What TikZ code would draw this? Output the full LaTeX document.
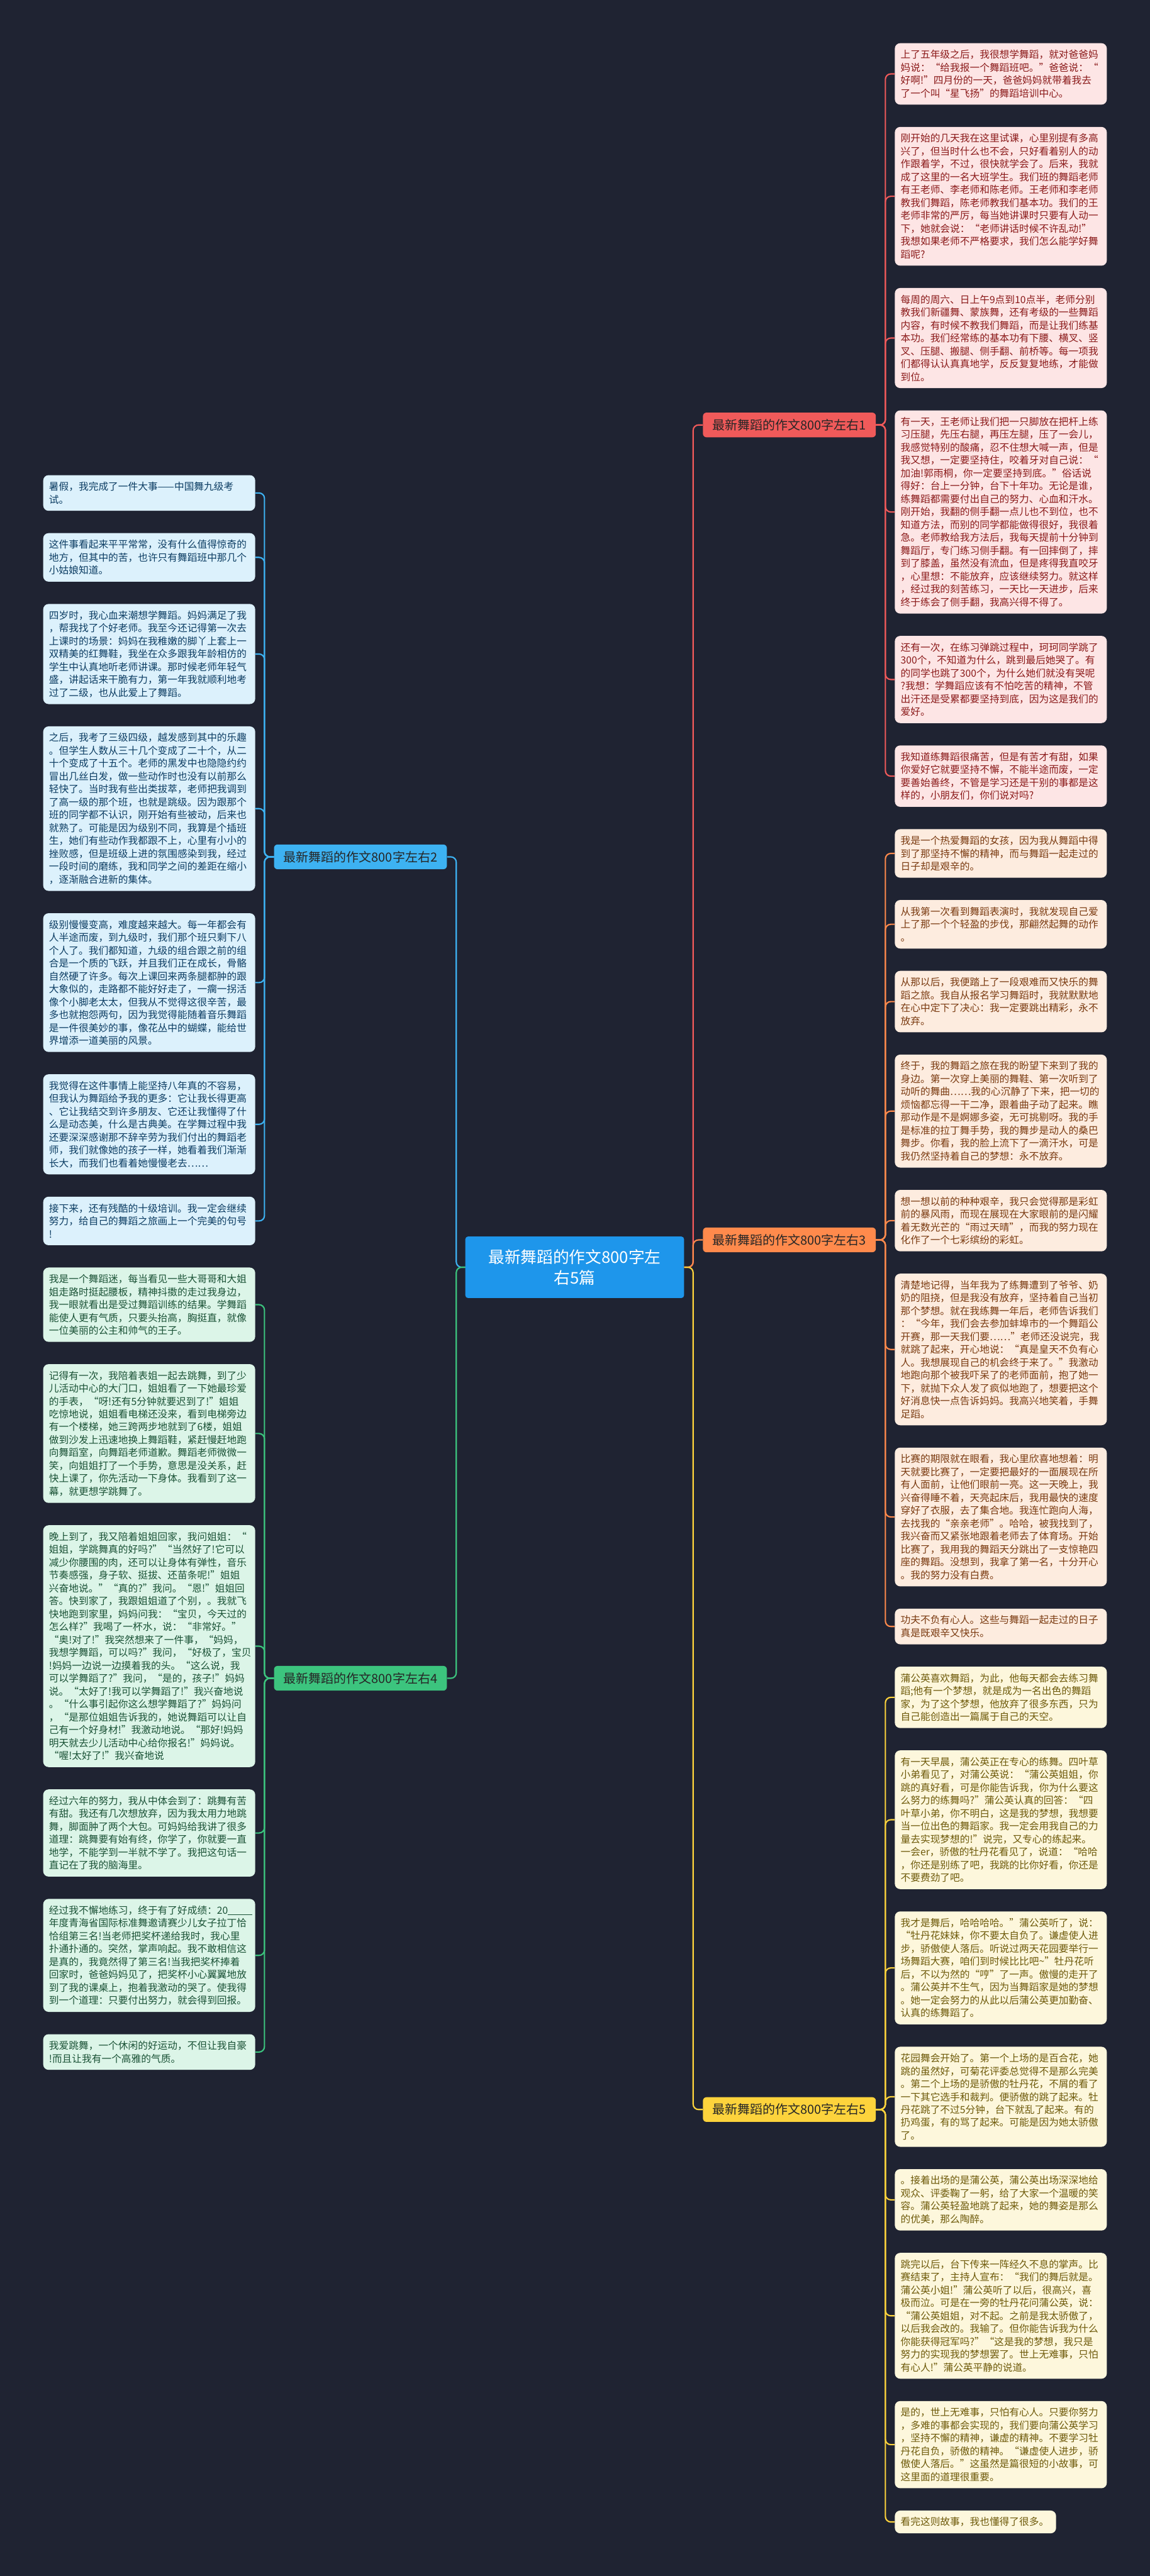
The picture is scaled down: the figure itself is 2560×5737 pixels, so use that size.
\documentclass[tikz,border=0pt]{standalone}
\usepackage{fontspec}
\newfontfamily\cjk{Noto Sans CJK SC}
\definecolor{bg}{HTML}{1F2332}
\definecolor{cfill}{HTML}{1E96EB}
\definecolor{cred}{HTML}{F05A5A}
\definecolor{cblue}{HTML}{3DB2F2}
\definecolor{corange}{HTML}{FF8A4C}
\definecolor{cgreen}{HTML}{3CC47E}
\definecolor{cyellow}{HTML}{FDD33C}
\definecolor{fred}{HTML}{FDE5E5}
\definecolor{tred}{HTML}{8B1A1A}
\definecolor{forange}{HTML}{FDECDF}
\definecolor{torange}{HTML}{7A3A10}
\definecolor{fyellow}{HTML}{FDF7DC}
\definecolor{tyellow}{HTML}{6E5A0A}
\definecolor{fblue}{HTML}{DCF1FC}
\definecolor{tblue}{HTML}{0C3D63}
\definecolor{fgreen}{HTML}{DCF5E8}
\definecolor{tgreen}{HTML}{1A5236}
\newcommand\leaffont{\cjk\fontsize{22}{28.7}\selectfont}
\tikzset{
  leaf/.style={anchor=north west, rounded corners=12pt, text width=446pt,
    inner xsep=13pt, inner ysep=2pt, align=left, font=\leaffont,
    minimum height={28.7*#1+22}},
  lred/.style={leaf=#1, fill=fred, text=tred},
  lorange/.style={leaf=#1, fill=forange, text=torange},
  lyellow/.style={leaf=#1, fill=fyellow, text=tyellow},
  lblue/.style={leaf=#1, fill=fblue, text=tblue},
  lgreen/.style={leaf=#1, fill=fgreen, text=tgreen},
  branch/.style={rounded corners=8pt, minimum width=385pt, minimum height=55pt,
    inner sep=0pt, font=\cjk\fontsize{28}{32}\selectfont},
  conn/.style={line width=3pt, rounded corners=12pt},
}
\begin{document}
\begin{tikzpicture}[x=1pt,y=-1pt]
\fill[bg] (0,0) rectangle (2560,5737);
\useasboundingbox (0,0) rectangle (2560,5737);

% center
\node[fill=cfill, text=white, rounded corners=6pt, minimum width=487pt, minimum height=137pt,
  align=center, inner sep=0pt, font=\cjk\fontsize{36}{46}\selectfont] (C) at (1279.5,2822.3)
  {最新舞蹈的作文800字左\\右5篇};

% branches
\node[branch, fill=cred, text=black!85] (B1) at (1757.5,946.4) {最新舞蹈的作文800字左右1};
\node[branch, fill=corange, text=black!85] (B3) at (1757.5,2761.3) {最新舞蹈的作文800字左右3};
\node[branch, fill=cyellow, text=black!85] (B5) at (1757.5,4698.1) {最新舞蹈的作文800字左右5};
\node[branch, fill=cblue, text=black!85] (B2) at (802.5,1908.3) {最新舞蹈的作文800字左右2};
\node[branch, fill=cgreen, text=black!85] (B4) at (802.5,3737.6) {最新舞蹈的作文800字左右4};

% ---------- essay 1 ----------
\node[lred=4] (r1a) at (1992,96) {上了五年级之后，我很想学舞蹈，就对爸爸妈\\妈说：“给我报一个舞蹈班吧。”爸爸说：“\\好啊!”四月份的一天，爸爸妈妈就带着我去\\了一个叫“星飞扬”的舞蹈培训中心。};
\node[lred=10] (r1b) at (1992,282.5) {刚开始的几天我在这里试课，心里别提有多高\\兴了，但当时什么也不会，只好看着别人的动\\作跟着学，不过，很快就学会了。后来，我就\\成了这里的一名大班学生。我们班的舞蹈老师\\有王老师、李老师和陈老师。王老师和李老师\\教我们舞蹈，陈老师教我们基本功。我们的王\\老师非常的严厉，每当她讲课时只要有人动一\\下，她就会说：“老师讲话时候不许乱动!”\\我想如果老师不严格要求，我们怎么能学好舞\\蹈呢?};
\node[lred=7] (r1c) at (1992,641.2) {每周的周六、日上午9点到10点半，老师分别\\教我们新疆舞、蒙族舞，还有考级的一些舞蹈\\内容，有时候不教我们舞蹈，而是让我们练基\\本功。我们经常练的基本功有下腰、横叉、竖\\叉、压腿、搬腿、侧手翻、前桥等。每一项我\\们都得认认真真地学，反反复复地练，才能做\\到位。};
\node[lred=15] (r1d) at (1992,913.8) {有一天，王老师让我们把一只脚放在把杆上练\\习压腿，先压右腿，再压左腿，压了一会儿，\\我感觉特别的酸痛，忍不住想大喊一声，但是\\我又想，一定要坚持住，咬着牙对自己说：“\\加油!郭雨桐，你一定要坚持到底。”俗话说\\得好：台上一分钟，台下十年功。无论是谁，\\练舞蹈都需要付出自己的努力、心血和汗水。\\刚开始，我翻的侧手翻一点儿也不到位，也不\\知道方法，而别的同学都能做得很好，我很着\\急。老师教给我方法后，我每天提前十分钟到\\舞蹈厅，专门练习侧手翻。有一回摔倒了，摔\\到了膝盖，虽然没有流血，但是疼得我直咬牙\\，心里想：不能放弃，应该继续努力。就这样\\，经过我的刻苦练习，一天比一天进步，后来\\终于练会了侧手翻，我高兴得不得了。};
\node[lred=6] (r1e) at (1992,1416.0) {还有一次，在练习弹跳过程中，珂珂同学跳了\\300个，不知道为什么，跳到最后她哭了。有\\的同学也跳了300个，为什么她们就没有哭呢\\?我想：学舞蹈应该有不怕吃苦的精神，不管\\出汗还是受累都要坚持到底，因为这是我们的\\爱好。};
\node[lred=4] (r1f) at (1992,1659.9) {我知道练舞蹈很痛苦，但是有苦才有甜，如果\\你爱好它就要坚持不懈，不能半途而废，一定\\要善始善终，不管是学习还是干别的事都是这\\样的，小朋友们，你们说对吗?};

% ---------- essay 3 ----------
\node[lorange=3] (r3a) at (1992,1846.4) {我是一个热爱舞蹈的女孩，因为我从舞蹈中得\\到了那坚持不懈的精神，而与舞蹈一起走过的\\日子却是艰辛的。};
\node[lorange=3] (r3b) at (1992,2004.2) {从我第一次看到舞蹈表演时，我就发现自己爱\\上了那一个个轻盈的步伐，那翩然起舞的动作\\。};
\node[lorange=4] (r3c) at (1992,2162.0) {从那以后，我便踏上了一段艰难而又快乐的舞\\蹈之旅。我自从报名学习舞蹈时，我就默默地\\在心中定下了决心：我一定要跳出精彩，永不\\放弃。};
\node[lorange=8] (r3d) at (1992,2348.5) {终于，我的舞蹈之旅在我的盼望下来到了我的\\身边。第一次穿上美丽的舞鞋、第一次听到了\\动听的舞曲……我的心沉静了下来，把一切的\\烦恼都忘得一干二净，跟着曲子动了起来。瞧\\那动作是不是婀娜多姿，无可挑剔呀。我的手\\是标准的拉丁舞手势，我的舞步是动人的桑巴\\舞步。你看，我的脸上流下了一滴汗水，可是\\我仍然坚持着自己的梦想：永不放弃。};
\node[lorange=4] (r3e) at (1992,2649.8) {想一想以前的种种艰辛，我只会觉得那是彩虹\\前的暴风雨，而现在展现在大家眼前的是闪耀\\着无数光芒的“雨过天晴”，而我的努力现在\\化作了一个七彩缤纷的彩虹。};
\node[lorange=11] (r3f) at (1992,2836.3) {清楚地记得，当年我为了练舞遭到了爷爷、奶\\奶的阻挠，但是我没有放弃，坚持着自己当初\\那个梦想。就在我练舞一年后，老师告诉我们\\：“今年，我们会去参加蚌埠市的一个舞蹈公\\开赛，那一天我们要……”老师还没说完，我\\就跳了起来，开心地说：“真是皇天不负有心\\人。我想展现自己的机会终于来了。”我激动\\地跑向那个被我吓呆了的老师面前，抱了她一\\下，就抛下众人发了疯似地跑了，想要把这个\\好消息快一点告诉妈妈。我高兴地笑着，手舞\\足蹈。};
\node[lorange=10] (r3g) at (1992,3223.7) {比赛的期限就在眼看，我心里欣喜地想着：明\\天就要比赛了，一定要把最好的一面展现在所\\有人面前，让他们眼前一亮。这一天晚上，我\\兴奋得睡不着，天亮起床后，我用最快的速度\\穿好了衣服，去了集合地。我连忙跑向人海，\\去找我的“亲亲老师”。哈哈，被我找到了，\\我兴奋而又紧张地跟着老师去了体育场。开始\\比赛了，我用我的舞蹈天分跳出了一支惊艳四\\座的舞蹈。没想到，我拿了第一名，十分开心\\。我的努力没有白费。};
\node[lorange=2] (r3h) at (1992,3582.4) {功夫不负有心人。这些与舞蹈一起走过的日子\\真是既艰辛又快乐。};

% ---------- essay 5 ----------
\node[lyellow=4] (r5a) at (1992,3711.5) {蒲公英喜欢舞蹈，为此，他每天都会去练习舞\\蹈;他有一个梦想，就是成为一名出色的舞蹈\\家，为了这个梦想，他放弃了很多东西，只为\\自己能创造出一篇属于自己的天空。};
\node[lyellow=10] (r5b) at (1992,3898.0) {有一天早晨，蒲公英正在专心的练舞。四叶草\\小弟看见了，对蒲公英说：“蒲公英姐姐，你\\跳的真好看，可是你能告诉我，你为什么要这\\么努力的练舞吗?”蒲公英认真的回答：“四\\叶草小弟，你不明白，这是我的梦想，我想要\\当一位出色的舞蹈家。我一定会用我自己的力\\量去实现梦想的!”说完，又专心的练起来。\\一会er，骄傲的牡丹花看见了，说道：“哈哈\\，你还是别练了吧，我跳的比你好看，你还是\\不要费劲了吧。};
\node[lyellow=8] (r5c) at (1992,4256.7) {我才是舞后，哈哈哈哈。”蒲公英听了，说：\\“牡丹花妹妹，你不要太自负了。谦虚使人进\\步，骄傲使人落后。听说过两天花园要举行一\\场舞蹈大赛，咱们到时候比比吧\textasciitilde”牡丹花听\\后，不以为然的“哼”了一声。傲慢的走开了\\。蒲公英并不生气，因为当舞蹈家是她的梦想\\。她一定会努力的从此以后蒲公英更加勤奋、\\认真的练舞蹈了。};
\node[lyellow=7] (r5d) at (1992,4558.0) {花园舞会开始了。第一个上场的是百合花，她\\跳的虽然好，可菊花评委总觉得不是那么完美\\。第二个上场的是骄傲的牡丹花，不屑的看了\\一下其它选手和裁判。便骄傲的跳了起来。牡\\丹花跳了不过5分钟，台下就乱了起来。有的\\扔鸡蛋，有的骂了起来。可能是因为她太骄傲\\了。};
\node[lyellow=4] (r5e) at (1992,4830.6) {。接着出场的是蒲公英，蒲公英出场深深地给\\观众、评委鞠了一躬，给了大家一个温暖的笑\\容。蒲公英轻盈地跳了起来，她的舞姿是那么\\的优美，那么陶醉。};
\node[lyellow=9] (r5f) at (1992,5017.1) {跳完以后，台下传来一阵经久不息的掌声。比\\赛结束了，主持人宣布：“我们的舞后就是。\\蒲公英小姐!”蒲公英听了以后，很高兴，喜\\极而泣。可是在一旁的牡丹花问蒲公英，说：\\“蒲公英姐姐，对不起。之前是我太骄傲了，\\以后我会改的。我输了。但你能告诉我为什么\\你能获得冠军吗?”“这是我的梦想，我只是\\努力的实现我的梦想罢了。世上无难事，只怕\\有心人!”蒲公英平静的说道。};
\node[lyellow=6] (r5g) at (1992,5347.1) {是的，世上无难事，只怕有心人。只要你努力\\，多难的事都会实现的，我们要向蒲公英学习\\，坚持不懈的精神，谦虚的精神。不要学习牡\\丹花自负，骄傲的精神。“谦虚使人进步，骄\\傲使人落后。”这虽然是篇很短的小故事，可\\这里面的道理很重要。};
\node[lyellow=1, text width=333pt] (r5h) at (1992,5591.0) {看完这则故事，我也懂得了很多。};

% ---------- essay 2 ----------
\node[lblue=2] (l2a) at (96,1058) {暑假，我完成了一件大事——中国舞九级考\\试。};
\node[lblue=3] (l2b) at (96,1187.1) {这件事看起来平平常常，没有什么值得惊奇的\\地方，但其中的苦，也许只有舞蹈班中那几个\\小姑娘知道。};
\node[lblue=7] (l2c) at (96,1344.9) {四岁时，我心血来潮想学舞蹈。妈妈满足了我\\，帮我找了个好老师。我至今还记得第一次去\\上课时的场景：妈妈在我稚嫩的脚丫上套上一\\双精美的红舞鞋，我坐在众多跟我年龄相仿的\\学生中认真地听老师讲课。那时候老师年轻气\\盛，讲起话来干脆有力，第一年我就顺利地考\\过了二级，也从此爱上了舞蹈。};
\node[lblue=12] (l2d) at (96,1617.5) {之后，我考了三级四级，越发感到其中的乐趣\\。但学生人数从三十几个变成了二十个，从二\\十个变成了十五个。老师的黑发中也隐隐约约\\冒出几丝白发，做一些动作时也没有以前那么\\轻快了。当时我有些出类拔萃，老师把我调到\\了高一级的那个班，也就是跳级。因为跟那个\\班的同学都不认识，刚开始有些被动，后来也\\就熟了。可能是因为级别不同，我算是个插班\\生，她们有些动作我都跟不上，心里有小小的\\挫败感，但是班级上进的氛围感染到我，经过\\一段时间的磨练，我和同学之间的差距在缩小\\，逐渐融合进新的集体。};
\node[lblue=10] (l2e) at (96,2033.6) {级别慢慢变高，难度越来越大。每一年都会有\\人半途而废，到九级时，我们那个班只剩下八\\个人了。我们都知道，九级的组合跟之前的组\\合是一个质的飞跃，并且我们正在成长，骨骼\\自然硬了许多。每次上课回来两条腿都肿的跟\\大象似的，走路都不能好好走了，一瘸一拐活\\像个小脚老太太，但我从不觉得这很辛苦，最\\多也就抱怨两句，因为我觉得能随着音乐舞蹈\\是一件很美妙的事，像花丛中的蝴蝶，能给世\\界增添一道美丽的风景。};
\node[lblue=7] (l2f) at (96,2392.3) {我觉得在这件事情上能坚持八年真的不容易，\\但我认为舞蹈给予我的更多：它让我长得更高\\、它让我结交到许多朋友、它还让我懂得了什\\么是动态美，什么是古典美。在学舞过程中我\\还要深深感谢那不辞辛劳为我们付出的舞蹈老\\师，我们就像她的孩子一样，她看着我们渐渐\\长大，而我们也看着她慢慢老去……};
\node[lblue=3] (l2g) at (96,2664.9) {接下来，还有残酷的十级培训。我一定会继续\\努力，给自己的舞蹈之旅画上一个完美的句号\\!};

% ---------- essay 4 ----------
\node[lgreen=5] (l4a) at (96,2822.7) {我是一个舞蹈迷，每当看见一些大哥哥和大姐\\姐走路时挺起腰板，精神抖擞的走过我身边，\\我一眼就看出是受过舞蹈训练的结果。学舞蹈\\能使人更有气质，只要头抬高，胸挺直，就像\\一位美丽的公主和帅气的王子。};
\node[lgreen=10] (l4b) at (96,3037.9) {记得有一次，我陪着表姐一起去跳舞，到了少\\儿活动中心的大门口，姐姐看了一下她最珍爱\\的手表，“呀!还有5分钟就要迟到了!”姐姐\\吃惊地说，姐姐看电梯还没来，看到电梯旁边\\有一个楼梯，她三跨两步地就到了6楼，姐姐\\做到沙发上迅速地换上舞蹈鞋，紧赶慢赶地跑\\向舞蹈室，向舞蹈老师道歉。舞蹈老师微微一\\笑，向姐姐打了一个手势，意思是没关系，赶\\快上课了，你先活动一下身体。我看到了这一\\幕，就更想学跳舞了。};
\node[lgreen=18] (l4c) at (96,3396.6) {晚上到了，我又陪着姐姐回家，我问姐姐：“\\姐姐，学跳舞真的好吗?”“当然好了!它可以\\减少你腰围的肉，还可以让身体有弹性，音乐\\节奏感强，身子软、挺拔、还苗条呢!”姐姐\\兴奋地说。”“真的?”我问。“恩!”姐姐回\\答。快到家了，我跟姐姐道了个别，。我就飞\\快地跑到家里，妈妈问我：“宝贝，今天过的\\怎么样?”我喝了一杯水，说：“非常好。”\\“奥!对了!”我突然想来了一件事，“妈妈，\\我想学舞蹈，可以吗?”我问，“好极了，宝贝\\!妈妈一边说一边摸着我的头。“这么说，我\\可以学舞蹈了?”我问，“是的，孩子!”妈妈\\说。“太好了!我可以学舞蹈了!”我兴奋地说\\。“什么事引起你这么想学舞蹈了?”妈妈问\\，“是那位姐姐告诉我的，她说舞蹈可以让自\\己有一个好身材!”我激动地说。“那好!妈妈\\明天就去少儿活动中心给你报名!”妈妈说。\\“喔!太好了!”我兴奋地说};
\node[lgreen=6] (l4d) at (96,3984.9) {经过六年的努力，我从中体会到了：跳舞有苦\\有甜。我还有几次想放弃，因为我太用力地跳\\舞，脚面肿了两个大包。可妈妈给我讲了很多\\道理：跳舞要有始有终，你学了，你就要一直\\地学，不能学到一半就不学了。我把这句话一\\直记在了我的脑海里。};
\node[lgreen=8] (l4e) at (96,4228.8) {经过我不懈地练习，终于有了好成绩：20\rule[-2pt]{54pt}{1pt}\\年度青海省国际标准舞邀请赛少儿女子拉丁恰\\恰组第三名!当老师把奖杯递给我时，我心里\\扑通扑通的。突然，掌声响起。我不敢相信这\\是真的，我竟然得了第三名!当我把奖杯捧着\\回家时，爸爸妈妈见了，把奖杯小心翼翼地放\\到了我的课桌上，抱着我激动的哭了。使我得\\到一个道理：只要付出努力，就会得到回报。};
\node[lgreen=2] (l4f) at (96,4530.1) {我爱跳舞，一个休闲的好运动，不但让我自豪\\!而且让我有一个高雅的气质。};

% ---------- connectors ----------
\draw[conn, cred] (C.east) -- ++(20,0) |- (B1.west);
\draw[conn, corange] (C.east) -- ++(20,0) |- (B3.west);
\draw[conn, cyellow] (C.east) -- ++(20,0) |- (B5.west);
\draw[conn, cblue] (C.west) -- ++(-20,0) |- (B2.east);
\draw[conn, cgreen] (C.west) -- ++(-20,0) |- (B4.east);

\foreach \n in {r1a,r1b,r1c,r1d,r1e,r1f}
  \draw[conn, cred] (B1.east) -- ++(21,0) |- (\n.west);
\foreach \n in {r3a,r3b,r3c,r3d,r3e,r3f,r3g,r3h}
  \draw[conn, corange] (B3.east) -- ++(21,0) |- (\n.west);
\foreach \n in {r5a,r5b,r5c,r5d,r5e,r5f,r5g,r5h}
  \draw[conn, cyellow] (B5.east) -- ++(21,0) |- (\n.west);
\foreach \n in {l2a,l2b,l2c,l2d,l2e,l2f,l2g}
  \draw[conn, cblue] (B2.west) -- ++(-21,0) |- (\n.east);
\foreach \n in {l4a,l4b,l4c,l4d,l4e,l4f}
  \draw[conn, cgreen] (B4.west) -- ++(-21,0) |- (\n.east);
\end{tikzpicture}
\end{document}
